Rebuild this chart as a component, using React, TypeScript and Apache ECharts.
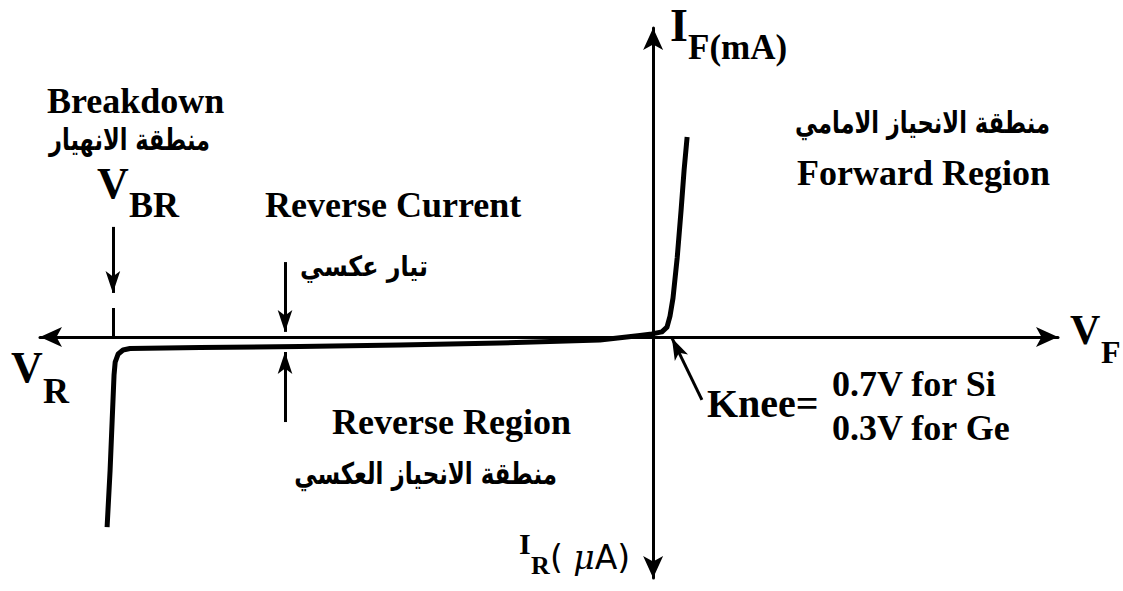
import React, { useEffect, useRef } from "react";
import * as echarts from "echarts";

// Diode I-V characteristic (schematic units: x = voltage, y = current)
const curveV = [
  -23.6, -23.47, -23.38, -23.3, -23.25, -23.12, -22.91, -22.61, -19.58, -15.26,
  -10.94, -6.62, -2.3, -0.57, -0.05, 0.38, 0.6, 0.73, 0.86, 1.04, 1.21, 1.34, 1.47,
];
const curveI = [
  -7.57, -5.3, -3.3, -1.52, -1.0, -0.68, -0.52, -0.46, -0.42, -0.38,
  -0.32, -0.24, -0.12, 0.06, 0.12, 0.2, 0.39, 0.83, 1.55, 3.14, 5.05, 6.65, 7.96,
];

// annotation arrows: [start, end] (end carries the arrowhead)
const vbrArrow = [[-23.35, 4.38], [-23.35, 1.75]];
const vbrTick = [[-23.35, 1.15], [-23.35, 0]];
const rcDownArrow = [[-15.91, 2.98], [-15.91, 0.2]];
const rcUpArrow = [[-15.91, -3.39], [-15.91, -0.6]];
const kneeArrow = [[2.11, -2.51], [0.81, -0.04]];

const xRange = [-26.5, 17.5];
const yRange = [-9.6, 12.3];

const SERIF = "'Liberation Serif', 'Times New Roman', serif";
const ARABIC = "'DejaVu Sans', sans-serif";

function t(text: string, x: number, y: number, size: number, opts: any = {}) {
  return {
    type: "text",
    x,
    y,
    scaleX: opts.scaleX || 1,
    scaleY: opts.scaleY || 1,
    silent: true,
    style: {
      text,
      fontSize: size,
      fontWeight: opts.weight || "bold",
      fontFamily: opts.family || SERIF,
      fontStyle: opts.style || "normal",
      fill: "#000",
      align: opts.align || "left",
      verticalAlign: "middle",
      rich: opts.rich,
    },
  };
}

export default function App() {
  const ref = useRef<HTMLDivElement>(null);
  useEffect(() => {
    const chart = echarts.init(ref.current!, null, { renderer: "svg" });
    const arrowEnd = (seg: number[][], head = true) => [
      { coord: seg[0], symbol: "none" },
      head
        ? { coord: seg[1], symbol: "arrow", symbolSize: [11, 22] }
        : { coord: seg[1], symbol: "none" },
    ];
    chart.setOption({
      animation: false,
      backgroundColor: "#fff",
      grid: { left: 40, right: 65, top: 28, bottom: 13 },
      xAxis: {
        type: "value",
        min: xRange[0],
        max: xRange[1],
        axisLine: {
          show: true,
          onZero: true,
          symbol: ["arrow", "arrow"],
          symbolSize: [15, 22],
          lineStyle: { color: "#000", width: 3 },
        },
        axisTick: { show: false },
        axisLabel: { show: false },
        splitLine: { show: false },
      },
      yAxis: {
        type: "value",
        min: yRange[0],
        max: yRange[1],
        axisLine: {
          show: true,
          onZero: true,
          symbol: ["arrow", "arrow"],
          symbolSize: [15, 22],
          lineStyle: { color: "#000", width: 3 },
        },
        axisTick: { show: false },
        axisLabel: { show: false },
        splitLine: { show: false },
      },
      series: [
        {
          type: "line",
          data: curveV.map((v, i) => [v, curveI[i]]),
          symbol: "none",
          lineStyle: { color: "#000", width: 5, join: "round" },
          silent: true,
          markLine: {
            silent: true,
            label: { show: false },
            lineStyle: { color: "#000", width: 3, type: "solid" },
            emphasis: { disabled: true },
            data: [
              arrowEnd(vbrArrow),
              arrowEnd(vbrTick, false),
              arrowEnd(rcDownArrow),
              arrowEnd(rcUpArrow),
              arrowEnd(kneeArrow),
            ],
          },
        },
      ],
      graphic: [
        t("Breakdown", 47, 101, 36),
        t("منطقة الانهيار", 210, 139, 30, { family: ARABIC, align: "right", scaleX: 0.75 }),
        t("V", 97, 183, 44),
        t("BR", 129, 205, 36),
        t("Reverse Current", 265, 205, 36),
        t("تيار عكسي", 428, 266, 28, { family: ARABIC, align: "right", scaleX: 0.85 }),
        t("V", 11, 367, 44),
        t("R", 43, 391, 36),
        t("Reverse Region", 332, 422, 36),
        t("منطقة الانحياز العكسي", 557, 473, 30, { family: ARABIC, align: "right", scaleX: 0.765 }),
        t("I", 670, 25, 46),
        t("F(mA)", 688, 47, 35),
        t("منطقة الانحياز الامامي", 1050, 122, 30, { family: ARABIC, align: "right", scaleX: 0.754 }),
        t("Forward Region", 797, 173, 36),
        t("V", 1070, 330, 42),
        t("F", 1101, 352, 32),
        t("Knee=", 707, 403, 40),
        t("0.7V for Si", 832, 384, 36),
        t("0.3V for Ge", 832, 428, 36),
        t("I", 519, 543, 30),
        t("R", 531, 565, 26),
        t("( {m|μ}A)", 550, 557, 33, {
          weight: "normal",
          family: "'DejaVu Sans', sans-serif",
          rich: {
            m: {
              fontSize: 33,
              fontStyle: "italic",
              fontFamily: "'DejaVu Serif', serif",
              fill: "#000",
            },
          },
        }),
      ],
    });
    return () => chart.dispose();
  }, []);
  return (
    <div
      ref={ref}
      style={{ position: "absolute", left: 0, top: 0, width: 1123, height: 591 }}
    />
  );
}
